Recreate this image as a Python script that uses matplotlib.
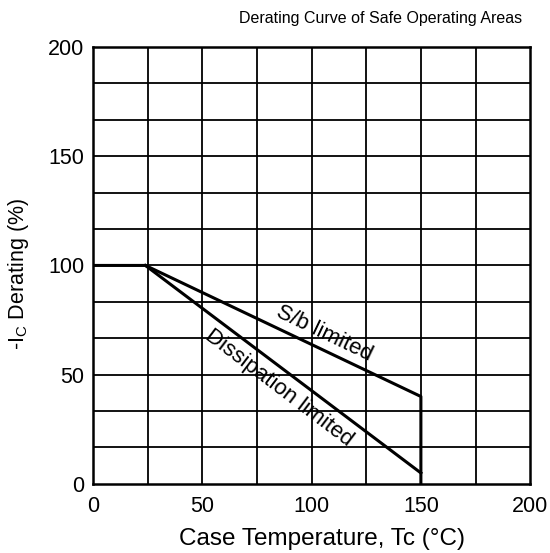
import numpy as np
import matplotlib
matplotlib.use("Agg")
import matplotlib.pyplot as plt

plt.rcParams['font.family'] = ['Liberation Sans', 'DejaVu Sans']

# curve data (Tc in degC, derating in %)
sb_x = [0, 24, 150, 150]
sb_y = [100, 100, 40, 0]
dis_x = [24, 150]
dis_y = [100, 5]

x_ticks = [0, 50, 100, 150, 200]
y_ticks = [0, 50, 100, 150, 200]

fig = plt.figure(figsize=(5.5, 5.53), dpi=100)
ax = fig.add_axes([0.169, 0.125, 0.795, 0.790])

# grid
for gx in np.arange(25, 200, 25):
    ax.axvline(gx, color='black', lw=1.3, zorder=1)
for gy in np.arange(1, 12) * 200 / 12:
    ax.axhline(gy, color='black', lw=1.3, zorder=1)

ax.plot(sb_x, sb_y, color='black', lw=2.2, zorder=3)
ax.plot(dis_x, dis_y, color='black', lw=2.2, zorder=3)

ax.text(106, 69, 'S/b limited', rotation=-25.6, ha='center', va='center', fontsize=16)
ax.text(85, 44, 'Dissipation limited', rotation=-37.2, ha='center', va='center', fontsize=16)

ax.set_xlim(0, 200)
ax.set_ylim(0, 200)
ax.set_xticks(x_ticks)
ax.set_yticks(y_ticks)
ax.tick_params(axis='y', length=0, labelsize=15.5, pad=6)
ax.tick_params(axis='x', length=0, labelsize=15.5, pad=9)
for s in ax.spines.values():
    s.set_linewidth(1.8)

ax.set_xlabel('Case Temperature, Tc (°C)', fontsize=17.5)
ax.set_ylabel('-I$_\\mathregular{C}$ Derating (%)', fontsize=15.5)
ax.xaxis.set_label_coords(0.524, -0.102)
ax.yaxis.set_label_coords(-0.142, 0.48)
fig.text(0.95, 0.967, 'Derating Curve of Safe Operating Areas', ha='right', va='center', fontsize=11.5)

fig.savefig('out.png', dpi=100)
